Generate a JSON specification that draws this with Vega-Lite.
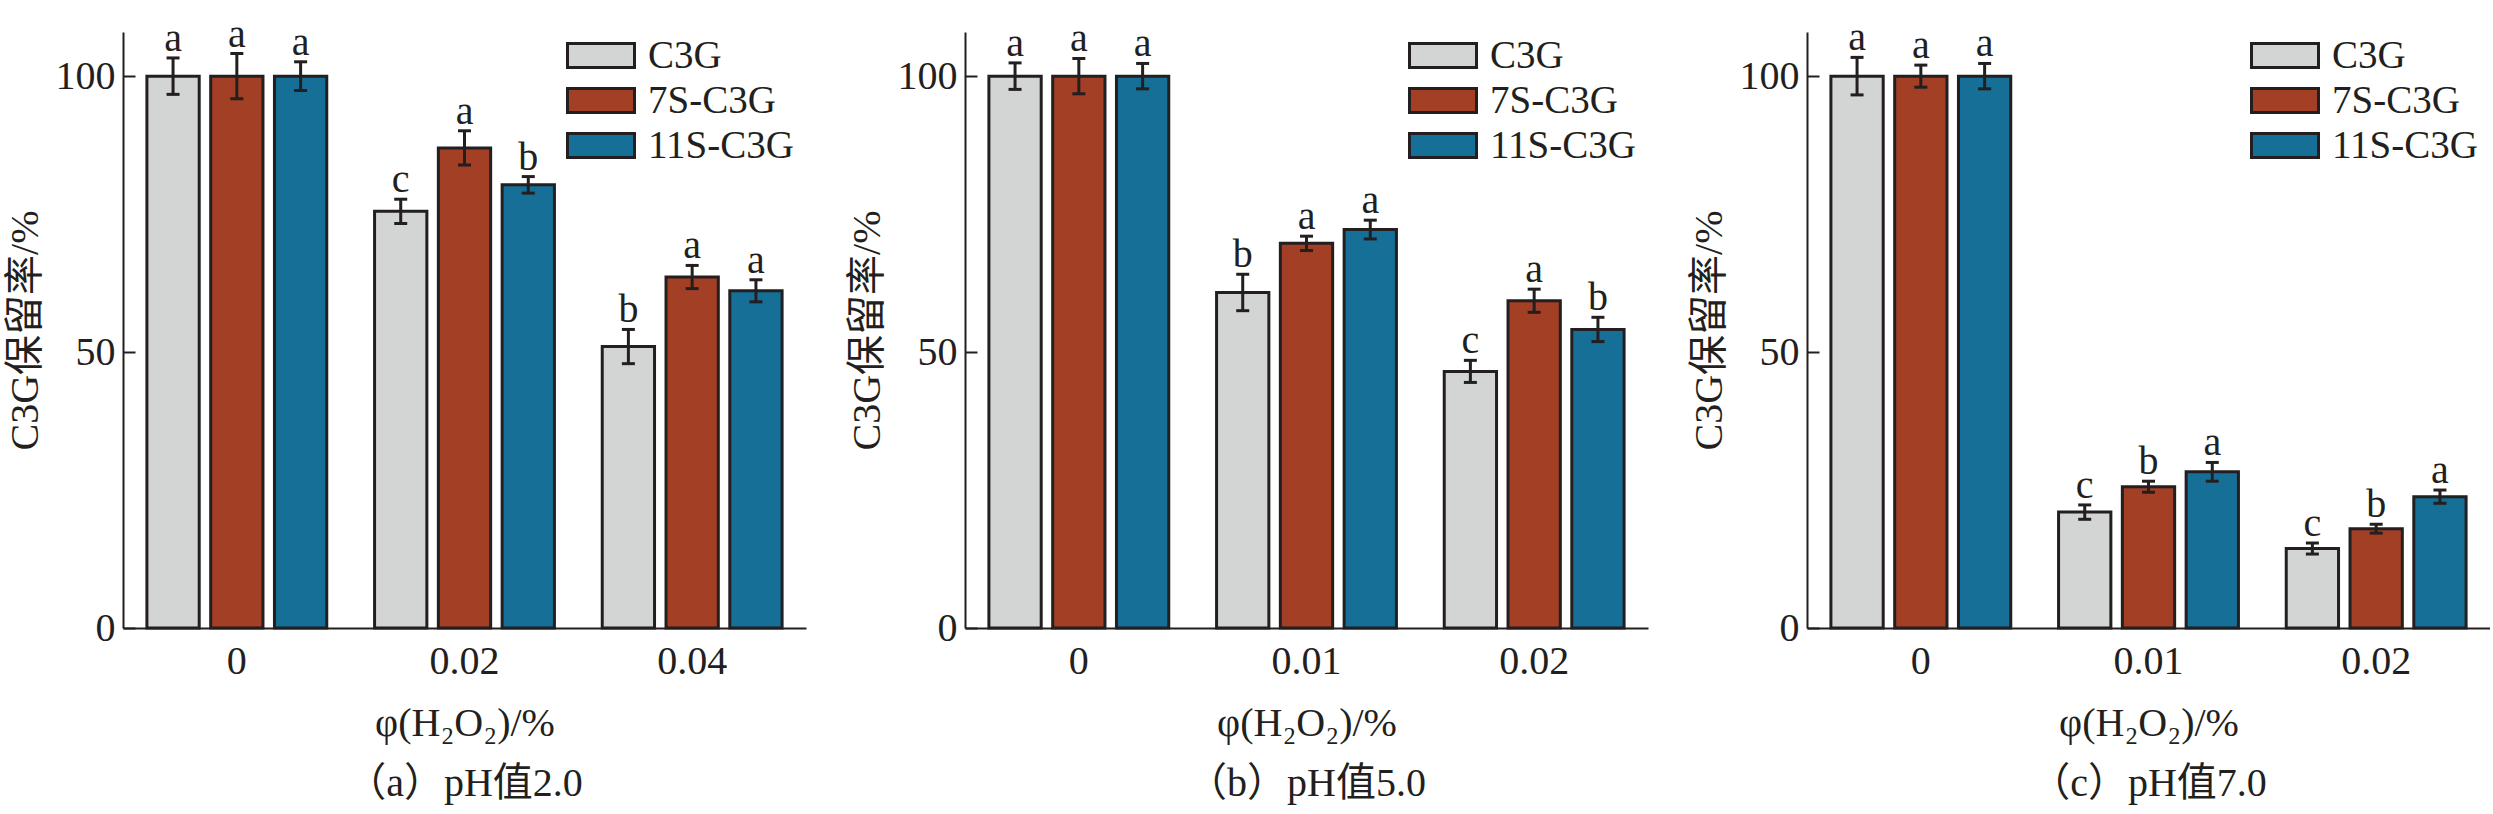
{
  "$schema": "https://vega.github.io/schema/vega-lite/v6.json",
  "padding": {"left": 5, "top": 14, "right": 0, "bottom": 5},
  "spacing": 41,
  "background": "white",
  "data": {"values": [
    {"panel": "a", "h2o2": "0", "sample": "C3G", "mean": 100, "sd": 3.3, "letter": "a"},
    {"panel": "a", "h2o2": "0", "sample": "7S-C3G", "mean": 100, "sd": 4.1, "letter": "a"},
    {"panel": "a", "h2o2": "0", "sample": "11S-C3G", "mean": 100, "sd": 2.6, "letter": "a"},
    {"panel": "a", "h2o2": "0.02", "sample": "C3G", "mean": 75.5, "sd": 2.2, "letter": "c"},
    {"panel": "a", "h2o2": "0.02", "sample": "7S-C3G", "mean": 87.0, "sd": 3.1, "letter": "a"},
    {"panel": "a", "h2o2": "0.02", "sample": "11S-C3G", "mean": 80.3, "sd": 1.5, "letter": "b"},
    {"panel": "a", "h2o2": "0.04", "sample": "C3G", "mean": 51.0, "sd": 3.1, "letter": "b"},
    {"panel": "a", "h2o2": "0.04", "sample": "7S-C3G", "mean": 63.6, "sd": 2.1, "letter": "a"},
    {"panel": "a", "h2o2": "0.04", "sample": "11S-C3G", "mean": 61.1, "sd": 2.0, "letter": "a"},
    {"panel": "b", "h2o2": "0", "sample": "C3G", "mean": 100, "sd": 2.4, "letter": "a"},
    {"panel": "b", "h2o2": "0", "sample": "7S-C3G", "mean": 100, "sd": 3.2, "letter": "a"},
    {"panel": "b", "h2o2": "0", "sample": "11S-C3G", "mean": 100, "sd": 2.3, "letter": "a"},
    {"panel": "b", "h2o2": "0.01", "sample": "C3G", "mean": 60.8, "sd": 3.3, "letter": "b"},
    {"panel": "b", "h2o2": "0.01", "sample": "7S-C3G", "mean": 69.7, "sd": 1.3, "letter": "a"},
    {"panel": "b", "h2o2": "0.01", "sample": "11S-C3G", "mean": 72.2, "sd": 1.7, "letter": "a"},
    {"panel": "b", "h2o2": "0.02", "sample": "C3G", "mean": 46.5, "sd": 2.0, "letter": "c"},
    {"panel": "b", "h2o2": "0.02", "sample": "7S-C3G", "mean": 59.3, "sd": 2.1, "letter": "a"},
    {"panel": "b", "h2o2": "0.02", "sample": "11S-C3G", "mean": 54.1, "sd": 2.2, "letter": "b"},
    {"panel": "c", "h2o2": "0", "sample": "C3G", "mean": 100, "sd": 3.4, "letter": "a"},
    {"panel": "c", "h2o2": "0", "sample": "7S-C3G", "mean": 100, "sd": 2.0, "letter": "a"},
    {"panel": "c", "h2o2": "0", "sample": "11S-C3G", "mean": 100, "sd": 2.3, "letter": "a"},
    {"panel": "c", "h2o2": "0.01", "sample": "C3G", "mean": 21.0, "sd": 1.3, "letter": "c"},
    {"panel": "c", "h2o2": "0.01", "sample": "7S-C3G", "mean": 25.6, "sd": 1.0, "letter": "b"},
    {"panel": "c", "h2o2": "0.01", "sample": "11S-C3G", "mean": 28.3, "sd": 1.7, "letter": "a"},
    {"panel": "c", "h2o2": "0.02", "sample": "C3G", "mean": 14.4, "sd": 1.0, "letter": "c"},
    {"panel": "c", "h2o2": "0.02", "sample": "7S-C3G", "mean": 18.0, "sd": 0.8, "letter": "b"},
    {"panel": "c", "h2o2": "0.02", "sample": "11S-C3G", "mean": 23.8, "sd": 1.2, "letter": "a"}
  ]},
  "resolve": {"scale": {"color": "independent"}, "legend": {"color": "independent"}},
  "config": {
    "font": "Liberation Serif, Noto Sans CJK SC",
    "view": {"stroke": null},
    "axis": {
      "labelFont": "Liberation Serif, Noto Sans CJK SC",
      "titleFont": "Liberation Serif, Noto Sans CJK SC",
      "labelColor": "#231f20", "titleColor": "#231f20",
      "domainColor": "#231f20", "tickColor": "#231f20",
      "domainWidth": 2, "tickWidth": 2, "grid": false,
      "labelFontSize": 40, "titleFontSize": 40, "titleFontWeight": "normal"
    },
    "title": {"font": "Liberation Serif, Noto Sans CJK SC", "fontSize": 40, "fontWeight": "normal", "color": "#231f20", "offset": 21},
    "legend": {
      "labelFont": "Liberation Serif, Noto Sans CJK SC", "labelFontSize": 39, "labelColor": "#231f20"
    },
    "text": {"font": "Liberation Serif, Noto Sans CJK SC", "color": "#231f20"}
  },
  "hconcat": [
    {
      "width": 683, "height": 596,
      "title": {"text": "（a）pH值2.0", "orient": "bottom"},
      "transform": [
        {"filter": "datum.panel == 'a'"},
        {"calculate": "datum.mean - datum.sd", "as": "lo"},
        {"calculate": "datum.mean + datum.sd", "as": "hi"}
      ],
      "encoding": {
        "x": {"field": "h2o2", "type": "nominal", "title": "φ(H₂O₂)/%", "scale": {"paddingInner": 0.21, "paddingOuter": 0.105}, "axis": {"ticks": false, "labelPadding": 13, "titlePadding": 22, "labelAngle": 0}},
        "xOffset": {"field": "sample", "type": "nominal", "sort": ["C3G", "7S-C3G", "11S-C3G"], "scale": {"paddingInner": 0.18, "paddingOuter": 0}}
      },
      "layer": [
        {"mark": {"type": "bar", "stroke": "#231f20", "strokeWidth": 3},
         "encoding": {
           "y": {"field": "mean", "type": "quantitative", "title": "C3G保留率/%", "scale": {"domain": [0, 108], "nice": false}, "axis": {"values": [0, 50, 100], "tickSize": -12, "labelPadding": 20, "titlePadding": 10}},
           "color": {"field": "sample", "type": "nominal", "sort": ["C3G", "7S-C3G", "11S-C3G"], "scale": {"domain": ["C3G", "7S-C3G", "11S-C3G"], "range": ["#d3d4d4", "#a23f24", "#166f96"]},
             "legend": {"orient": "none", "legendX": 443, "legendY": 1, "title": null, "symbolType": "M-1,-0.36H1V0.36H-1Z", "symbolSize": 4489, "symbolStrokeColor": "#231f20", "symbolStrokeWidth": 3, "symbolOpacity": 1, "labelOffset": 12, "rowPadding": 0, "clipHeight": 45}}
         }},
        {"mark": {"type": "rule", "strokeWidth": 3, "color": "#231f20"},
         "encoding": {"y": {"field": "lo", "type": "quantitative", "title": "C3G保留率/%"}, "y2": {"field": "hi"}}},
        {"mark": {"type": "tick", "thickness": 3, "size": 13, "color": "#231f20", "opacity": 1},
         "encoding": {"y": {"field": "lo", "type": "quantitative", "title": "C3G保留率/%"}}},
        {"mark": {"type": "tick", "thickness": 3, "size": 13, "color": "#231f20", "opacity": 1},
         "encoding": {"y": {"field": "hi", "type": "quantitative", "title": "C3G保留率/%"}}},
        {"mark": {"type": "text", "dy": -7, "baseline": "alphabetic", "fontSize": 40},
         "encoding": {"y": {"field": "hi", "type": "quantitative", "title": "C3G保留率/%"}, "text": {"field": "letter"}}}
      ]
    },
    {
      "width": 683, "height": 596,
      "title": {"text": "（b）pH值5.0", "orient": "bottom"},
      "transform": [
        {"filter": "datum.panel == 'b'"},
        {"calculate": "datum.mean - datum.sd", "as": "lo"},
        {"calculate": "datum.mean + datum.sd", "as": "hi"}
      ],
      "encoding": {
        "x": {"field": "h2o2", "type": "nominal", "title": "φ(H₂O₂)/%", "scale": {"paddingInner": 0.21, "paddingOuter": 0.105}, "axis": {"ticks": false, "labelPadding": 13, "titlePadding": 22, "labelAngle": 0}},
        "xOffset": {"field": "sample", "type": "nominal", "sort": ["C3G", "7S-C3G", "11S-C3G"], "scale": {"paddingInner": 0.18, "paddingOuter": 0}}
      },
      "layer": [
        {"mark": {"type": "bar", "stroke": "#231f20", "strokeWidth": 3},
         "encoding": {
           "y": {"field": "mean", "type": "quantitative", "title": "C3G保留率/%", "scale": {"domain": [0, 108], "nice": false}, "axis": {"values": [0, 50, 100], "tickSize": -12, "labelPadding": 20, "titlePadding": 10}},
           "color": {"field": "sample", "type": "nominal", "sort": ["C3G", "7S-C3G", "11S-C3G"], "scale": {"domain": ["C3G", "7S-C3G", "11S-C3G"], "range": ["#d3d4d4", "#a23f24", "#166f96"]},
             "legend": {"orient": "none", "legendX": 443, "legendY": 1, "title": null, "symbolType": "M-1,-0.36H1V0.36H-1Z", "symbolSize": 4489, "symbolStrokeColor": "#231f20", "symbolStrokeWidth": 3, "symbolOpacity": 1, "labelOffset": 12, "rowPadding": 0, "clipHeight": 45}}
         }},
        {"mark": {"type": "rule", "strokeWidth": 3, "color": "#231f20"},
         "encoding": {"y": {"field": "lo", "type": "quantitative", "title": "C3G保留率/%"}, "y2": {"field": "hi"}}},
        {"mark": {"type": "tick", "thickness": 3, "size": 13, "color": "#231f20", "opacity": 1},
         "encoding": {"y": {"field": "lo", "type": "quantitative", "title": "C3G保留率/%"}}},
        {"mark": {"type": "tick", "thickness": 3, "size": 13, "color": "#231f20", "opacity": 1},
         "encoding": {"y": {"field": "hi", "type": "quantitative", "title": "C3G保留率/%"}}},
        {"mark": {"type": "text", "dy": -7, "baseline": "alphabetic", "fontSize": 40},
         "encoding": {"y": {"field": "hi", "type": "quantitative", "title": "C3G保留率/%"}, "text": {"field": "letter"}}}
      ]
    },
    {
      "width": 683, "height": 596,
      "title": {"text": "（c）pH值7.0", "orient": "bottom"},
      "transform": [
        {"filter": "datum.panel == 'c'"},
        {"calculate": "datum.mean - datum.sd", "as": "lo"},
        {"calculate": "datum.mean + datum.sd", "as": "hi"}
      ],
      "encoding": {
        "x": {"field": "h2o2", "type": "nominal", "title": "φ(H₂O₂)/%", "scale": {"paddingInner": 0.21, "paddingOuter": 0.105}, "axis": {"ticks": false, "labelPadding": 13, "titlePadding": 22, "labelAngle": 0}},
        "xOffset": {"field": "sample", "type": "nominal", "sort": ["C3G", "7S-C3G", "11S-C3G"], "scale": {"paddingInner": 0.18, "paddingOuter": 0}}
      },
      "layer": [
        {"mark": {"type": "bar", "stroke": "#231f20", "strokeWidth": 3},
         "encoding": {
           "y": {"field": "mean", "type": "quantitative", "title": "C3G保留率/%", "scale": {"domain": [0, 108], "nice": false}, "axis": {"values": [0, 50, 100], "tickSize": -12, "labelPadding": 20, "titlePadding": 10}},
           "color": {"field": "sample", "type": "nominal", "sort": ["C3G", "7S-C3G", "11S-C3G"], "scale": {"domain": ["C3G", "7S-C3G", "11S-C3G"], "range": ["#d3d4d4", "#a23f24", "#166f96"]},
             "legend": {"orient": "none", "legendX": 443, "legendY": 1, "title": null, "symbolType": "M-1,-0.36H1V0.36H-1Z", "symbolSize": 4489, "symbolStrokeColor": "#231f20", "symbolStrokeWidth": 3, "symbolOpacity": 1, "labelOffset": 12, "rowPadding": 0, "clipHeight": 45}}
         }},
        {"mark": {"type": "rule", "strokeWidth": 3, "color": "#231f20"},
         "encoding": {"y": {"field": "lo", "type": "quantitative", "title": "C3G保留率/%"}, "y2": {"field": "hi"}}},
        {"mark": {"type": "tick", "thickness": 3, "size": 13, "color": "#231f20", "opacity": 1},
         "encoding": {"y": {"field": "lo", "type": "quantitative", "title": "C3G保留率/%"}}},
        {"mark": {"type": "tick", "thickness": 3, "size": 13, "color": "#231f20", "opacity": 1},
         "encoding": {"y": {"field": "hi", "type": "quantitative", "title": "C3G保留率/%"}}},
        {"mark": {"type": "text", "dy": -7, "baseline": "alphabetic", "fontSize": 40},
         "encoding": {"y": {"field": "hi", "type": "quantitative", "title": "C3G保留率/%"}, "text": {"field": "letter"}}}
      ]
    }
  ]
}
